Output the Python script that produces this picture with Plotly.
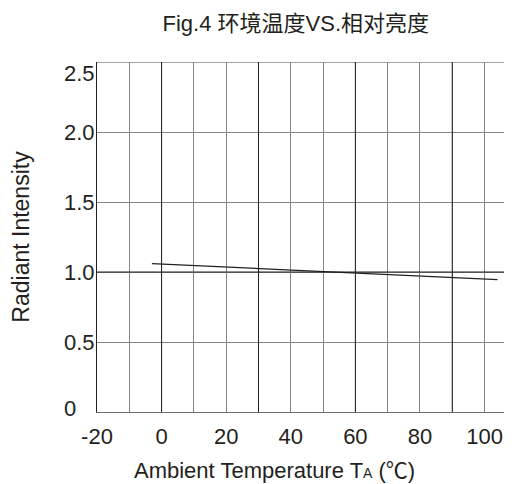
import plotly.graph_objects as go

temps = [-3, 25, 50, 75, 104]
intensity = [1.06, 1.031, 1.0, 0.975, 0.945]
x_ticks = [-20, 0, 20, 40, 60, 80, 100]
x_labels = ["-20", "0", "20", "40", "60", "80", "100"]
y_ticks = [0, 0.5, 1.0, 1.5, 2.0, 2.5]
y_labels = ["0", "0.5", "1.0", "1.5", "2.0", "2.5"]

DARK = "#231f20"
GRAY = "#8a8585"
font_main = "Liberation Sans, Arial, Noto Sans CJK SC"

fig = go.Figure()
fig.add_trace(go.Scatter(x=temps, y=intensity, mode="lines",
                         line=dict(color=DARK, width=1.2), showlegend=False))

# page body has an 8px margin, so the figure is sized/positioned to compensate
fig.update_layout(
    width=504, height=476,
    margin=dict(l=89, r=0, t=54, b=72),
    paper_bgcolor="white", plot_bgcolor="white",
    title=dict(text="Fig.4 环境温度VS.相对亮度", x=0.571, xanchor="center", y=0.968, yanchor="middle",
               font=dict(family=font_main, size=22, color=DARK)),
    xaxis=dict(range=[-20, 108.5], tickvals=x_ticks, ticktext=x_labels, ticks="",
               automargin=False, showgrid=True, gridcolor=GRAY, gridwidth=1,
               minor=dict(showgrid=True, gridcolor=GRAY, dtick=10, tick0=-10, gridwidth=1),
               showline=True, linecolor="#6e6a6a", linewidth=1.2, zeroline=False,
               ticklabelstandoff=4,
               tickfont=dict(family=font_main, size=22, color=DARK)),
    yaxis=dict(range=[0, 2.5], tickvals=y_ticks, ticks="", showticklabels=False,
               automargin=False, showgrid=True, gridcolor=GRAY, gridwidth=1, zeroline=False,
               showline=True, linecolor=DARK, linewidth=1.2,
               title=dict(text="Radiant Intensity", font=dict(family=font_main, size=23, color=DARK),
                          standoff=62)),
)

fig.add_annotation(x=0.427, xref="paper", y=-0.166, yref="paper", showarrow=False,
                   xanchor="center", yanchor="middle",
                   text="Ambient Temperature T<span style='font-size:14px'>A</span> (℃)",
                   font=dict(family=font_main, size=22, color=DARK))

for v, lab in zip(y_ticks, y_labels):
    top = v == max(y_ticks)
    fig.add_annotation(x=-35 / 415, xref="paper", y=v, yref="y", text=lab, showarrow=False,
                       xanchor="left", yanchor="top" if top else "middle",
                       yshift=3 if top else (4 if v == 0 else 0),
                       font=dict(family=font_main, size=22, color=DARK))

fig.add_shape(type="line", xref="paper", yref="y", x0=0, x1=1, y0=2.5, y1=2.5,
              line=dict(color=GRAY, width=1.5))
fig.add_shape(type="line", xref="paper", yref="y", x0=0, x1=1, y0=1.0, y1=1.0,
              line=dict(color=DARK, width=1))
for xv in [0, 30, 60, 90]:
    fig.add_shape(type="line", xref="x", yref="paper", x0=xv, x1=xv, y0=0, y1=1,
                  line=dict(color=DARK, width=1))
fig.write_html("out.html")
